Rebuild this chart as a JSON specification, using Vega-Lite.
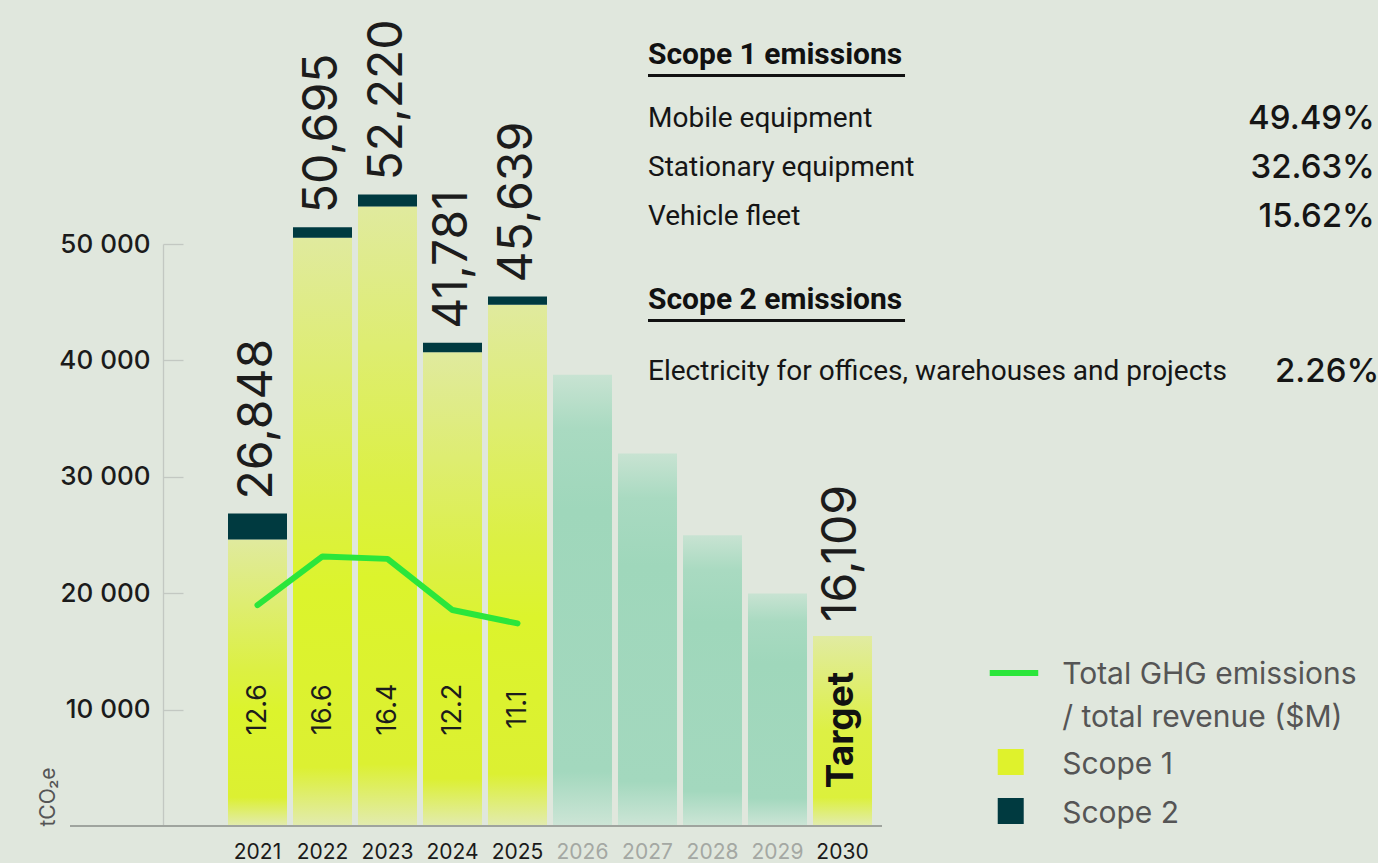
{
  "$schema": "https://vega.github.io/schema/vega-lite/v6.json",
  "background": "#e0e7dd",
  "autosize": {"type": "none"},
  "padding": {"left": 70, "top": 244, "right": 496, "bottom": 37},
  "width": 812,
  "height": 582,
  "config": {"view": {"stroke": null}},
  "datasets": {
    "emissions": [
      {"year": "2021", "status": "Reported", "scope1": 24610, "scope2": 2240, "label": "26,848", "intensity": 12.6},
      {"year": "2022", "status": "Reported", "scope1": 50530, "scope2": 910, "label": "50,695", "intensity": 16.6},
      {"year": "2023", "status": "Reported", "scope1": 53220, "scope2": 1030, "label": "52,220", "intensity": 16.4},
      {"year": "2024", "status": "Reported", "scope1": 40710, "scope2": 810, "label": "41,781", "intensity": 12.2},
      {"year": "2025", "status": "Reported", "scope1": 44780, "scope2": 710, "label": "45,639", "intensity": 11.1},
      {"year": "2026", "status": "Projected", "planned": 38770},
      {"year": "2027", "status": "Projected", "planned": 32000},
      {"year": "2028", "status": "Projected", "planned": 24980},
      {"year": "2029", "status": "Projected", "planned": 19970},
      {"year": "2030", "status": "Target", "planned": 16330, "label": "16,109"}
    ],
    "breakdown": [
      {"section": "Scope 1 emissions", "item": "Mobile equipment", "share": "49.49%"},
      {"section": "Scope 1 emissions", "item": "Stationary equipment", "share": "32.63%"},
      {"section": "Scope 1 emissions", "item": "Vehicle fleet", "share": "15.62%"},
      {"section": "Scope 2 emissions", "item": "Electricity for offices, warehouses and projects", "share": "2.26%"}
    ],
    "legend": [
      {"entry": "Total GHG emissions\n/ total revenue ($M)", "kind": "line"},
      {"entry": "Scope 1", "kind": "box"},
      {"entry": "Scope 2", "kind": "box"}
    ]
  },
  "layer": [
    {
      "layer": [
        {
          "layer": [
            {
              "data": {"name": "emissions"},
              "transform": [
                {"filter": "datum.status === 'Reported'"},
                {"fold": ["scope1", "scope2"], "as": ["part", "value"]}
              ],
              "mark": {"type": "bar"},
              "encoding": {
                "x": {
                  "field": "year", "type": "nominal", "sort": null,
                  "scale": {"domain": ["2021","2022","2023","2024","2025","2026","2027","2028","2029","2030"], "range": [158, 802], "paddingInner": 0.0923, "paddingOuter": 0},
                  "axis": {
                    "title": null, "ticks": false, "domain": false,
                    "labelAngle": 0, "labelFont": "Inter", "labelFontSize": 21, "labelPadding": 15,
                    "labelColor": {"condition": {"test": "indexof(['2026','2027','2028','2029'], datum.value) >= 0", "value": "#a4a8a3"}, "value": "#1a1a1a"}
                  }
                },
                "y": {
                  "field": "value", "type": "quantitative", "stack": "zero",
                  "scale": {"domain": [0, 50000], "nice": false, "zero": true},
                  "axis": {
                    "title": "tCO₂e", "titleFont": "Inter", "titleFontSize": 21, "titleFontWeight": "normal", "titleColor": "#555555",
                    "titleAngle": 270, "titleX": -115, "titleY": 582, "titleAlign": "left", "titleBaseline": "middle",
                    "values": [10000, 20000, 30000, 40000, 50000],
                    "labelExpr": "replace(format(datum.value, ','), ',', ' ')",
                    "offset": -93, "grid": false,
                    "domainColor": "#c3c8c2", "domainWidth": 1.3,
                    "tickColor": "#c3c8c2", "tickWidth": 1.3, "tickSize": -20,
                    "labelPadding": 33, "labelFont": "Inter", "labelFontSize": 26, "labelFontWeight": 500, "labelColor": "#1b1b1b"
                  }
                },
                "order": {"field": "part", "sort": "ascending"},
                "fill": {
                  "condition": {"test": "datum.part === 'scope2'", "value": "#003a40"},
                  "value": {"x1": 0, "y1": 0, "x2": 0, "y2": 1, "gradient": "linear", "stops": [
                    {"offset": 0, "color": "#e0ea9e"},
                    {"offset": 0.45, "color": "#dcf044"},
                    {"offset": 0.6, "color": "#dcf42c"},
                    {"offset": 0.9, "color": "#dcf032"},
                    {"offset": 1, "color": "#e2ebb0"}
                  ]}
                }
              }
            },
            {
              "data": {"name": "emissions"},
              "transform": [{"filter": "datum.planned != null"}],
              "mark": {"type": "bar"},
              "encoding": {
                "x": {"field": "year", "type": "nominal", "sort": null},
                "y": {"field": "planned", "type": "quantitative"},
                "fill": {
                  "condition": {"test": "datum.status === 'Target'", "value": {"x1": 0, "y1": 0, "x2": 0, "y2": 1, "gradient": "linear", "stops": [
                    {"offset": 0, "color": "#e1eba2"},
                    {"offset": 0.5, "color": "#ddf044"},
                    {"offset": 0.85, "color": "#dcf03c"},
                    {"offset": 1, "color": "#e2ecb0"}
                  ]}},
                  "value": {"x1": 0, "y1": 0, "x2": 0, "y2": 1, "gradient": "linear", "stops": [
                    {"offset": 0, "color": "#c8e3d2"},
                    {"offset": 0.12, "color": "#a9dac1"},
                    {"offset": 0.3, "color": "#9fd7bb"},
                    {"offset": 0.88, "color": "#a3d8be"},
                    {"offset": 1, "color": "#cde5d6"}
                  ]}
                }
              }
            },
            {
              "data": {"name": "emissions"},
              "mark": {"type": "rule", "color": "#9fa59e", "strokeWidth": 1.5},
              "encoding": {
                "y": {"datum": 0, "type": "quantitative"}
              }
            },
            {
              "data": {"name": "emissions"},
              "transform": [
                {"filter": "datum.label != null"},
                {"fold": ["scope1", "scope2", "planned"], "as": ["part", "value"]}
              ],
              "mark": {"type": "text", "angle": 270, "align": "left", "baseline": "middle", "yOffset": -14, "font": "Inter", "fontSize": 48, "color": "#1c1c1c"},
              "encoding": {
                "x": {"field": "year", "type": "nominal", "sort": null},
                "y": {"aggregate": "sum", "field": "value", "type": "quantitative", "stack": null},
                "text": {"field": "label", "type": "nominal"}
              }
            },
            {
              "data": {"name": "emissions"},
              "transform": [{"filter": "datum.intensity != null"}],
              "mark": {"type": "text", "angle": 270, "align": "center", "baseline": "middle", "font": "Inter", "fontSize": 27, "color": "#1c1c1c"},
              "encoding": {
                "x": {"field": "year", "type": "nominal", "sort": null},
                "y": {"datum": 10000, "type": "quantitative"},
                "text": {"field": "intensity", "type": "quantitative", "format": ".1f"}
              }
            },
            {
              "data": {"name": "emissions"},
              "transform": [{"filter": "datum.status === 'Target'"}],
              "mark": {"type": "text", "angle": 270, "align": "center", "baseline": "middle", "font": "Inter", "fontWeight": "bold", "fontSize": 37, "color": "#111111"},
              "encoding": {
                "x": {"field": "year", "type": "nominal", "sort": null},
                "y": {"datum": 8250, "type": "quantitative"},
                "text": {"field": "status", "type": "nominal"}
              }
            }
          ]
        },
        {
          "data": {"name": "emissions"},
          "transform": [{"filter": "datum.intensity != null"}],
          "mark": {"type": "line", "color": "#2be63b", "strokeWidth": 6, "strokeCap": "round", "strokeJoin": "round"},
          "encoding": {
            "x": {"field": "year", "type": "nominal", "sort": null},
            "y": {"field": "intensity", "type": "quantitative", "scale": {"domain": [-5.53, 42.25], "nice": false, "zero": false}, "axis": null}
          }
        }
      ],
      "resolve": {"scale": {"y": "independent"}}
    },
    {
      "layer": [
        {
          "data": {"name": "breakdown"},
          "transform": [{"aggregate": [{"op": "count", "as": "n"}], "groupby": ["section"]}],
          "mark": {"type": "text", "align": "left", "baseline": "middle", "font": "Roboto", "fontWeight": "bold", "fontSize": 30, "color": "#111111", "yOffset": -15},
          "encoding": {
            "x": {"datum": 0, "type": "quantitative", "scale": {"domain": [0, 100], "range": [578, 1302]}, "axis": null},
            "y": {
              "field": "section", "type": "nominal",
              "scale": {"type": "point", "padding": 0, "range": [-174, 561], "domain": [
                "Scope 1 emissions", "Mobile equipment", "Stationary equipment", "Vehicle fleet", "_g1",
                "Scope 2 emissions", "Electricity for offices, warehouses and projects",
                "_g2", "_g3", "_g4", "_g5", "_g6",
                "Total GHG emissions\n/ total revenue ($M)", "_g7", "Scope 1", "Scope 2"
              ]},
              "axis": null
            },
            "text": {"field": "section", "type": "nominal"}
          }
        },
        {
          "data": {"name": "breakdown"},
          "transform": [{"aggregate": [{"op": "count", "as": "n"}], "groupby": ["section"]}],
          "mark": {"type": "rule", "color": "#111111", "strokeWidth": 3, "yOffset": 5.5},
          "encoding": {
            "x": {"datum": 0, "type": "quantitative"},
            "x2": {"datum": 35.5},
            "y": {"field": "section", "type": "nominal"}
          }
        },
        {
          "data": {"name": "breakdown"},
          "transform": [{"filter": "datum.section === 'Scope 1 emissions'"}],
          "mark": {"type": "text", "align": "left", "baseline": "middle", "font": "Roboto", "fontSize": 28, "color": "#151515"},
          "encoding": {
            "x": {"datum": 0, "type": "quantitative"},
            "y": {"field": "item", "type": "nominal"},
            "text": {"field": "item", "type": "nominal"}
          }
        },
        {
          "data": {"name": "breakdown"},
          "transform": [{"filter": "datum.section === 'Scope 1 emissions'"}],
          "mark": {"type": "text", "align": "right", "baseline": "middle", "font": "Inter", "fontSize": 33, "fontWeight": 500, "color": "#151515"},
          "encoding": {
            "x": {"datum": 100.4, "type": "quantitative"},
            "y": {"field": "item", "type": "nominal"},
            "text": {"field": "share", "type": "nominal"}
          }
        },
        {
          "data": {"name": "breakdown"},
          "transform": [{"filter": "datum.section === 'Scope 2 emissions'"}],
          "mark": {"type": "text", "align": "left", "baseline": "middle", "font": "Roboto", "fontSize": 28, "color": "#151515", "yOffset": 8},
          "encoding": {
            "x": {"datum": 0, "type": "quantitative"},
            "y": {"field": "item", "type": "nominal"},
            "text": {"field": "item", "type": "nominal"}
          }
        },
        {
          "data": {"name": "breakdown"},
          "transform": [{"filter": "datum.section === 'Scope 2 emissions'"}],
          "mark": {"type": "text", "align": "right", "baseline": "middle", "font": "Inter", "fontSize": 33, "fontWeight": 500, "color": "#151515", "yOffset": 8},
          "encoding": {
            "x": {"datum": 101, "type": "quantitative"},
            "y": {"field": "item", "type": "nominal"},
            "text": {"field": "share", "type": "nominal"}
          }
        },
        {
          "data": {"name": "legend"},
          "transform": [{"filter": "datum.kind === 'line'"}],
          "mark": {"type": "rule", "color": "#2be63b", "strokeWidth": 6, "yOffset": 15},
          "encoding": {
            "x": {"datum": 47.2, "type": "quantitative"},
            "x2": {"datum": 53.9},
            "y": {"field": "entry", "type": "nominal"}
          }
        },
        {
          "data": {"name": "legend"},
          "transform": [{"filter": "datum.kind === 'box'"}],
          "mark": {"type": "point", "shape": "square", "filled": true, "size": 676, "opacity": 1, "yOffset": 6},
          "encoding": {
            "x": {"datum": 50.1, "type": "quantitative"},
            "y": {"field": "entry", "type": "nominal"},
            "color": {"field": "entry", "type": "nominal", "scale": {"domain": ["Scope 1", "Scope 2"], "range": ["#dff22c", "#003a40"]}, "legend": null}
          }
        },
        {
          "data": {"name": "legend"},
          "transform": [{"filter": "datum.kind === 'line'"}],
          "mark": {"type": "text", "align": "left", "baseline": "alphabetic", "lineBreak": "\n", "lineHeight": 43, "font": "Inter", "fontSize": 30, "color": "#555555", "yOffset": 26},
          "encoding": {
            "x": {"datum": 57.2, "type": "quantitative"},
            "y": {"field": "entry", "type": "nominal"},
            "text": {"field": "entry", "type": "nominal"}
          }
        },
        {
          "data": {"name": "legend"},
          "transform": [{"filter": "datum.kind === 'box'"}],
          "mark": {"type": "text", "align": "left", "baseline": "alphabetic", "font": "Inter", "fontSize": 30, "color": "#555555", "yOffset": 18},
          "encoding": {
            "x": {"datum": 57.2, "type": "quantitative"},
            "y": {"field": "entry", "type": "nominal"},
            "text": {"field": "entry", "type": "nominal"}
          }
        }
      ]
    }
  ],
  "resolve": {"scale": {"x": "independent", "y": "independent"}}
}
